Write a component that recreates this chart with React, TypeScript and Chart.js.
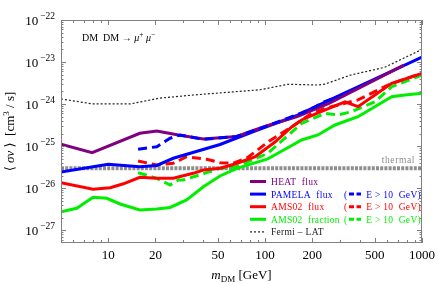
import React, { useEffect, useRef } from "react";
import { Chart, registerables } from "chart.js";

Chart.register(...registerables);

// ---- data (m_DM in GeV, <sigma v> in cm^3/s) ----
const heatMass = [5, 7.9, 15.9, 20.4, 28, 40.4, 66, 86, 107, 160, 259, 767];
const heatSigma = [1.11e-25, 7.0e-26, 2.03e-25, 2.3e-25, 1.85e-25, 1.49e-25, 1.7e-25, 2.43e-25, 3.2e-25, 5.04e-25, 1.07e-24, 8.5e-24];

const pamelaMass = [5, 10, 15.9, 20.4, 26, 51.6, 86, 160, 259, 1000];
const pamelaSigma = [2.44e-26, 3.72e-26, 3.27e-26, 3.49e-26, 5.17e-26, 1.1e-25, 2.3e-25, 5.4e-25, 1.26e-24, 1.32e-23];

const pamelaCutMass = [15.5, 20.4, 24.8, 28.6, 40.4, 49.3, 66, 107, 171, 200, 240, 290];
const pamelaCutSigma = [8.46e-26, 9.75e-26, 1.55e-25, 1.85e-25, 1.46e-25, 1.55e-25, 1.7e-25, 3.2e-25, 6.2e-25, 8.0e-25, 1.15e-24, 1.5e-24];

const amsFluxMass = [5, 8.0, 10.3, 12.5, 15.9, 20.4, 26, 34.8, 40.4, 51.6, 64.3, 86, 115.6, 147.7, 171, 217, 323, 391, 501, 641, 1000];
const amsFluxSigma = [1.36e-26, 9.48e-27, 1.035e-26, 1.28e-26, 1.83e-26, 1.73e-26, 1.73e-26, 2.27e-26, 2.72e-26, 2.99e-26, 3.79e-26, 5.55e-26, 1.26e-25, 2.87e-25, 4.21e-25, 6.17e-25, 1.14e-24, 8.71e-25, 1.65e-24, 3.13e-24, 5.41e-24];

const amsFluxCutMass = [15.5, 20.4, 26, 31.6, 42.4, 51.6, 62.7, 76.3, 107, 147.7, 171, 198, 241, 323, 391, 453, 607, 814, 1000];
const amsFluxCutSigma = [4.46e-26, 3.58e-26, 3.94e-26, 5.64e-26, 4.89e-26, 4.06e-26, 3.94e-26, 5.2e-26, 1.35e-25, 2.87e-25, 4.21e-25, 6.07e-25, 7.98e-25, 1.05e-24, 1.26e-24, 1.65e-24, 2.85e-24, 4.19e-24, 5.41e-24];

const amsFracMass = [5, 6.3, 8.0, 9.8, 11.9, 15.9, 20.4, 24.8, 31.6, 40.4, 51.6, 66, 80, 104, 134, 171, 217, 279, 391, 641, 779, 1000];
const amsFracSigma = [2.78e-27, 3.35e-27, 6.12e-27, 5.8e-27, 4.24e-27, 3.05e-27, 3.23e-27, 3.5e-27, 5.28e-27, 1.09e-26, 1.96e-26, 2.99e-26, 3.7e-26, 5.0e-26, 8.5e-26, 1.41e-25, 1.85e-25, 3.2e-25, 5.04e-25, 1.5e-24, 1.65e-24, 1.81e-24];

const amsFracCutMass = [15.5, 20.4, 24.8, 28, 30.1, 42.4, 51.6, 64.3, 104, 171, 241, 291, 356, 501, 641, 1000];
const amsFracCutSigma = [2.35e-26, 1.73e-26, 1.2e-26, 1.58e-26, 1.58e-26, 2.35e-26, 2.99e-26, 3.16e-26, 6.8e-26, 3.51e-25, 6.07e-25, 5.52e-25, 6.62e-25, 1.14e-24, 2.6e-24, 4.93e-24];

const fermiMass = [5, 8, 13.8, 21, 34.8, 93, 140, 217, 241, 352, 578, 1000];
const fermiSigma = [1.33e-24, 1.01e-24, 1.01e-24, 1.38e-24, 1.65e-24, 2.2e-24, 2.97e-24, 2.85e-24, 3.0e-24, 4.93e-24, 7.5e-24, 2.0e-23];

const thermalMass = [5, 1000];
const thermalSigma = [3e-26, 3e-26];

const xTickLabels = [10, 20, 50, 100, 200, 500, 1000];
const xMinorTicks = [6, 7, 8, 9, 30, 40, 60, 70, 80, 90, 300, 400, 600, 700, 800, 900];
const yExponents = [-22, -23, -24, -25, -26, -27];

const legendRows = [
  { label: "HEAT  flux", color: "#800080", cut: false, dotted: false },
  { label: "PAMELA  flux", color: "#0000ff", cut: true, dotted: false },
  { label: "AMS02  flux", color: "#ff0000", cut: true, dotted: false },
  { label: "AMS02  fraction", color: "#00ee00", cut: true, dotted: false },
  { label: "Fermi – LAT", color: "#222222", cut: false, dotted: true },
];

const SERIF = "'Liberation Serif', 'DejaVu Serif', serif";

const pts = (xs: number[], ys: number[]) => xs.map((x, i) => ({ x, y: ys[i] }));

type Run = { t: string; f: string; dy?: number };
function drawRuns(ctx: CanvasRenderingContext2D, runs: Run[], x: number, y: number, align: "left" | "center" | "right") {
  let w = 0;
  for (const r of runs) {
    ctx.font = r.f;
    w += ctx.measureText(r.t).width;
  }
  let cx = align === "left" ? x : align === "center" ? x - w / 2 : x - w;
  ctx.textAlign = "left";
  for (const r of runs) {
    ctx.font = r.f;
    ctx.fillText(r.t, cx, y + (r.dy || 0));
    cx += ctx.measureText(r.t).width;
  }
}

const decorPlugin = {
  id: "decor",
  afterDraw(chart: any) {
    const { ctx, chartArea: a, scales } = chart;
    const xs = scales.x;
    const ys = scales.y;
    ctx.save();
    // frame
    ctx.strokeStyle = "#808080";
    ctx.lineWidth = 1;
    ctx.setLineDash([]);
    ctx.strokeRect(a.left + 0.5, a.top + 0.5, a.right - a.left - 1, a.bottom - a.top - 1);
    // x ticks
    const xTick = (v: number, len: number) => {
      const px = Math.round(xs.getPixelForValue(v)) + 0.5;
      ctx.beginPath();
      ctx.moveTo(px, a.bottom);
      ctx.lineTo(px, a.bottom - len);
      ctx.moveTo(px, a.top);
      ctx.lineTo(px, a.top + len);
      ctx.stroke();
    };
    xTickLabels.forEach((v) => xTick(v, 5));
    xMinorTicks.forEach((v) => xTick(v, 3));
    // y ticks
    const yTick = (v: number, len: number) => {
      const py = Math.round(ys.getPixelForValue(v)) + 0.5;
      ctx.beginPath();
      ctx.moveTo(a.left, py);
      ctx.lineTo(a.left + len, py);
      ctx.moveTo(a.right, py);
      ctx.lineTo(a.right - len, py);
      ctx.stroke();
    };
    for (let e = -28; e <= -22; e++) {
      if (e >= -27) yTick(Math.pow(10, e), 5);
      for (let k = 2; k <= 9; k++) {
        const v = k * Math.pow(10, e);
        if (v > ys.min && v < ys.max) yTick(v, 2.5);
      }
    }
    // x tick labels
    ctx.fillStyle = "#000";
    ctx.textBaseline = "alphabetic";
    ctx.font = `13px ${SERIF}`;
    ctx.textAlign = "center";
    xTickLabels.forEach((v) => {
      ctx.fillText(String(v), xs.getPixelForValue(v), 259);
    });
    // y tick labels
    yExponents.forEach((e) => {
      const py = ys.getPixelForValue(Math.pow(10, e));
      drawRuns(ctx, [
        { t: "10", f: `13px ${SERIF}` },
        { t: "\u2009\u2212" + String(-e), f: `9.5px ${SERIF}`, dy: -6 },
      ], 55, py + 5, "right");
    });
    // x title
    drawRuns(ctx, [
      { t: "m", f: `italic 13px ${SERIF}` },
      { t: "DM", f: `9px ${SERIF}`, dy: 3 },
      { t: " [GeV]", f: `13px ${SERIF}` },
    ], (a.left + a.right) / 2, 279, "center");
    // y title
    ctx.save();
    ctx.translate(14, (a.top + a.bottom) / 2);
    ctx.rotate(-Math.PI / 2);
    drawRuns(ctx, [
      { t: "\u27E8 ", f: `13px ${SERIF}` },
      { t: "\u03C3v", f: `italic 13px ${SERIF}` },
      { t: " \u27E9  [cm", f: `13px ${SERIF}` },
      { t: "3", f: `9px ${SERIF}`, dy: -5 },
      { t: " / s]", f: `13px ${SERIF}` },
    ], 0, 0, "center");
    ctx.restore();
    // channel annotation
    drawRuns(ctx, [
      { t: "DM  DM \u2192 ", f: `10px ${SERIF}` },
      { t: "\u03BC", f: `italic 10px ${SERIF}` },
      { t: "+", f: `7.5px ${SERIF}`, dy: -4 },
      { t: " ", f: `10px ${SERIF}` },
      { t: "\u03BC", f: `italic 10px ${SERIF}` },
      { t: "\u2212", f: `7.5px ${SERIF}`, dy: -4 },
    ], 82, 41, "left");
    // thermal label
    ctx.fillStyle = "#8c8c8c";
    ctx.font = `9.5px ${SERIF}`;
    ctx.textAlign = "right";
    (ctx as any).letterSpacing = "0.6px";
    ctx.fillText("thermal", 415, 163);
    // legend
    (ctx as any).letterSpacing = "0.3px";
    legendRows.forEach((r, i) => {
      const y = 181.5 + i * 12.6;
      ctx.strokeStyle = r.color;
      ctx.lineWidth = r.dotted ? 1.2 : 3;
      ctx.setLineDash(r.dotted ? [2, 2] : []);
      ctx.beginPath();
      ctx.moveTo(250, y);
      ctx.lineTo(266, y);
      ctx.stroke();
      ctx.fillStyle = r.color;
      ctx.font = `9.5px ${SERIF}`;
      ctx.textAlign = "left";
      ctx.fillText(r.label, 271, y + 3.5);
      if (r.cut) {
        ctx.fillText("(", 344, y + 3.5);
        ctx.lineWidth = 3;
        ctx.setLineDash([5, 2.5]);
        ctx.beginPath();
        ctx.moveTo(349, y);
        ctx.lineTo(361, y);
        ctx.stroke();
        ctx.textAlign = "right";
        ctx.fillText("E > 10  GeV)", 421, y + 3.5);
      }
    });
    ctx.restore();
  },
};

export default function App() {
  const ref = useRef<HTMLCanvasElement | null>(null);
  useEffect(() => {
    if (!ref.current) return;
    const line = (data: any, color: string, width: number, dash: number[] = []) => ({
      data,
      borderColor: color,
      backgroundColor: color,
      borderWidth: width,
      borderDash: dash,
      pointRadius: 0,
      tension: 0,
      fill: false,
    });
    const chart = new Chart(ref.current, {
      type: "line",
      data: {
        datasets: [
          { label: "PAMELA E>10", ...line(pts(pamelaCutMass, pamelaCutSigma), "#0000ff", 3, [9, 5]) },
          { label: "HEAT", ...line(pts(heatMass, heatSigma), "#800080", 3) },
          { label: "PAMELA", ...line(pts(pamelaMass, pamelaSigma), "#0000ff", 3) },
          { label: "AMS02 flux E>10", ...line(pts(amsFluxCutMass, amsFluxCutSigma), "#ff0000", 3, [9, 5]) },
          { label: "AMS02 flux", ...line(pts(amsFluxMass, amsFluxSigma), "#ff0000", 3) },
          { label: "AMS02 fraction E>10", ...line(pts(amsFracCutMass, amsFracCutSigma), "#00ee00", 3, [9, 5]) },
          { label: "AMS02 fraction", ...line(pts(amsFracMass, amsFracSigma), "#00ee00", 3) },
          { label: "Fermi-LAT", ...line(pts(fermiMass, fermiSigma), "#222222", 1.2, [2, 2]) },
          { label: "thermal", ...line(pts(thermalMass, thermalSigma), "#8e8e8e", 4, [3, 1.2]) },
        ],
      },
      options: {
        animation: false,
        responsive: false,
        devicePixelRatio: 1,
        parsing: false as any,
        layout: { padding: { left: 61, right: 16, top: 20, bottom: 41 } },
        plugins: { legend: { display: false }, tooltip: { enabled: false } },
        scales: {
          x: { type: "logarithmic", min: 5, max: 1000, display: false },
          y: { type: "logarithmic", min: Math.pow(10, -27.3), max: 1e-22, display: false },
        },
      },
      plugins: [decorPlugin],
    });
    return () => chart.destroy();
  }, []);
  return (
    <div style={{ position: "absolute", left: 0, top: 0, width: 438, height: 284, background: "#fff" }}>
      <canvas ref={ref} width={438} height={284} />
    </div>
  );
}
